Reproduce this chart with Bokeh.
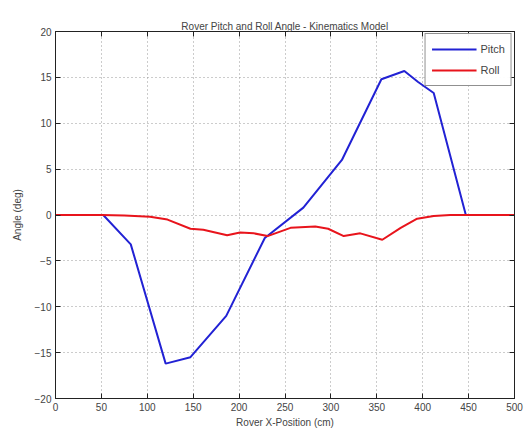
from bokeh.plotting import figure
from bokeh.models import FixedTicker, LinearAxis, Range1d, Legend, LegendItem, CustomJSTickFormatter
from bokeh.embed import file_html
from bokeh.resources import INLINE

# Data
pitch_x = [0, 25, 52, 82, 120, 147, 186, 228, 270, 312, 355, 380, 395, 412, 447, 475, 500]
pitch_y = [0, 0, 0, -3.2, -16.2, -15.5, -11.0, -2.5, 0.8, 6.0, 14.8, 15.7, 14.5, 13.3, 0, 0, 0]

roll_x = [0, 25, 50, 75, 103, 122, 147, 161, 187, 201, 216, 231, 256, 283, 297, 314, 332, 356, 376, 394, 412, 430, 460, 500]
roll_y = [0, 0, 0, -0.05, -0.2, -0.5, -1.5, -1.6, -2.2, -1.9, -2.0, -2.3, -1.4, -1.25, -1.5, -2.3, -2.0, -2.7, -1.4, -0.4, -0.1, 0, 0, 0]

x_ticks = [0, 50, 100, 150, 200, 250, 300, 350, 400, 450, 500]
y_ticks = [-20, -15, -10, -5, 0, 5, 10, 15, 20]

title = "Rover Pitch and Roll Angle - Kinematics Model"
x_label = "Rover X-Position (cm)"
y_label = "Angle (deg)"

FONT = "Liberation Sans"
TXT = "#444444"

p = figure(width=532, height=438, output_backend="svg", toolbar_location=None,
           x_range=Range1d(0, 500), y_range=Range1d(-20, 20),
           min_border_left=55, min_border_right=18, min_border_top=31, min_border_bottom=40)

p.title.text = title
p.title.align = "center"
p.title.text_font = FONT
p.title.text_font_size = "10px"
p.title.text_font_style = "normal"
p.title.text_color = TXT
p.title.standoff = 0

p.outline_line_color = "#222222"
p.outline_line_width = 1

for ax in (p.xaxis[0], p.yaxis[0]):
    ax.major_tick_in = 5
    ax.major_tick_out = 0
    ax.minor_tick_in = 0
    ax.minor_tick_out = 0
    ax.axis_line_color = "#222222"
    ax.major_tick_line_color = "#222222"
    ax.major_label_text_font = FONT
    ax.major_label_text_font_size = "10px"
    ax.major_label_text_color = TXT
    ax.axis_label_text_font = FONT
    ax.axis_label_text_font_size = "10px"
    ax.axis_label_text_font_style = "normal"
    ax.axis_label_text_color = TXT
    ax.major_label_standoff = 4
    ax.axis_label_standoff = 3

p.xaxis[0].ticker = FixedTicker(ticks=x_ticks)
p.yaxis[0].ticker = FixedTicker(ticks=y_ticks)
p.xaxis[0].axis_label = x_label
p.yaxis[0].axis_label = y_label
p.yaxis[0].axis_label_standoff = 9

# top and right tick marks (box style)
top = LinearAxis(ticker=FixedTicker(ticks=x_ticks))
right = LinearAxis(ticker=FixedTicker(ticks=y_ticks))
for ax in (top, right):
    ax.major_tick_in = 5
    ax.major_tick_out = 0
    ax.minor_tick_in = 0
    ax.minor_tick_out = 0
    ax.formatter = CustomJSTickFormatter(code="return '';")
    ax.major_label_standoff = 0
    ax.axis_line_color = "#222222"
    ax.major_tick_line_color = "#222222"
top.major_label_standoff = 20
p.add_layout(top, "above")
p.add_layout(right, "right")

p.xgrid.ticker = FixedTicker(ticks=x_ticks)
p.ygrid.ticker = FixedTicker(ticks=y_ticks)
p.grid.grid_line_color = "#999999"
p.grid.grid_line_dash = "1 3"
p.grid.grid_line_width = 1

r1 = p.line(pitch_x, pitch_y, line_color="#2222d4", line_width=2)
r2 = p.line(roll_x, roll_y, line_color="#e8141c", line_width=2)

legend = Legend(items=[LegendItem(label="Pitch", renderers=[r1]),
                       LegendItem(label="Roll", renderers=[r2])],
                location="top_right")
legend.border_line_color = "#222222"
legend.label_text_font = FONT
legend.label_text_font_size = "11px"
legend.label_text_color = TXT
legend.glyph_width = 45
legend.glyph_height = 18
legend.label_height = 18
legend.spacing = 3
legend.padding = 6
legend.margin = 2
legend.label_standoff = 4
p.add_layout(legend)

open("out.html", "w").write(file_html(p, INLINE))
